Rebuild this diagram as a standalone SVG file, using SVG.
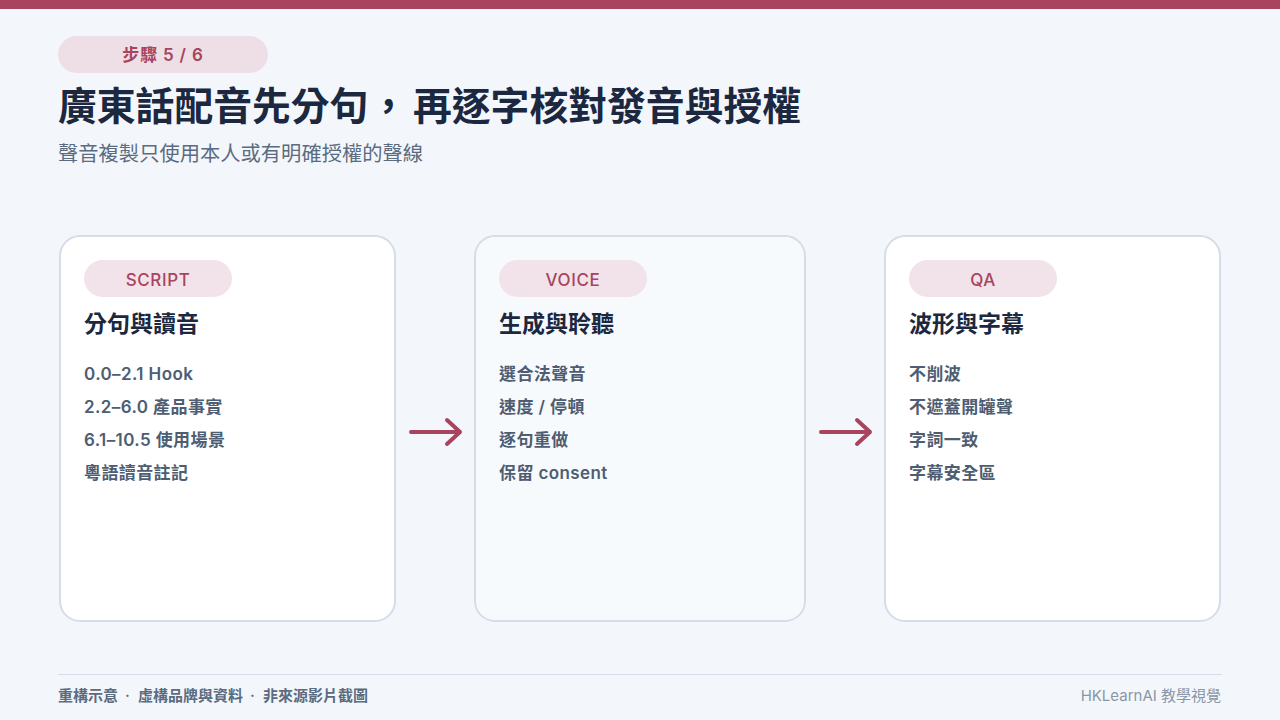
<svg xmlns="http://www.w3.org/2000/svg" width="1280" height="720" viewBox="0 0 1280 720">
  <defs>
    <style>
      .sans { font-family: "Inter", "Noto Sans CJK TC", "Noto Sans", sans-serif; }
      .card { stroke: #D5DEE8; stroke-width: 2; }
      .badge { fill: #F1E3E9; }
      .badge-text { font-size: 17px; font-weight: 500; fill: #A8445E; text-anchor: middle; letter-spacing: 0.6px; }
      .card-title { font-size: 23px; font-weight: 700; fill: #1B2840; }
      .item { font-size: 17px; font-weight: 600; fill: #4E5D72; letter-spacing: 0.4px; }
      .arrow { stroke: #A8445E; stroke-width: 4; fill: none; stroke-linecap: round; stroke-linejoin: round; }
    </style>
  </defs>
  <rect x="0" y="0" width="1280" height="720" fill="#F3F7FB"/>
  <rect x="0" y="0" width="1280" height="9" fill="#A8445E"/>

  <g id="header" class="sans">
    <rect x="58" y="36" width="210" height="37" rx="18.5" fill="#EEDFE6"/>
    <text x="163" y="61" font-size="17" font-weight="600" fill="#A8445E" text-anchor="middle" letter-spacing="0.8">步驟 5 / 6</text>
    <text y="120" font-size="38.8" font-weight="700" fill="#1B2840"><tspan x="58">廣東話配音先分句</tspan><tspan x="369">，</tspan><tspan x="413">再逐字核對發音與授權</tspan></text>
    <text x="58" y="161" font-size="20.3" font-weight="400" fill="#5B6B80">聲音複製只使用本人或有明確授權的聲線</text>
  </g>

  <g id="card-script" class="sans">
    <rect class="card" x="60" y="236" width="335" height="385" rx="20" fill="#FFFFFF"/>
    <rect class="badge" x="84" y="260" width="148" height="37" rx="18.5"/>
    <text class="badge-text" x="158" y="286">SCRIPT</text>
    <text class="card-title" x="84" y="332">分句與讀音</text>
    <text class="item" x="84" y="380">0.0–2.1 Hook</text>
    <text class="item" x="84" y="413">2.2–6.0 產品事實</text>
    <text class="item" x="84" y="446">6.1–10.5 使用場景</text>
    <text class="item" x="84" y="479">粵語讀音註記</text>
  </g>

  <g id="card-voice" class="sans">
    <rect class="card" x="475" y="236" width="330" height="385" rx="20" fill="#F7FAFD"/>
    <rect class="badge" x="499" y="260" width="148" height="37" rx="18.5"/>
    <text class="badge-text" x="573" y="286">VOICE</text>
    <text class="card-title" x="499" y="332">生成與聆聽</text>
    <text class="item" x="499" y="380">選合法聲音</text>
    <text class="item" x="499" y="413">速度 / 停頓</text>
    <text class="item" x="499" y="446">逐句重做</text>
    <text class="item" x="499" y="479">保留 consent</text>
  </g>

  <g id="card-qa" class="sans">
    <rect class="card" x="885" y="236" width="335" height="385" rx="20" fill="#FFFFFF"/>
    <rect class="badge" x="909" y="260" width="148" height="37" rx="18.5"/>
    <text class="badge-text" x="983" y="286">QA</text>
    <text class="card-title" x="909" y="332">波形與字幕</text>
    <text class="item" x="909" y="380">不削波</text>
    <text class="item" x="909" y="413">不遮蓋開罐聲</text>
    <text class="item" x="909" y="446">字詞一致</text>
    <text class="item" x="909" y="479">字幕安全區</text>
  </g>

  <g id="connectors">
    <path class="arrow" d="M411 432 H460 M447 420 L460 432 L447 444"/>
    <path class="arrow" d="M821 432 H870 M857 420 L870 432 L857 444"/>
  </g>

  <g id="footer" class="sans">
    <line x1="58" y1="674.5" x2="1222" y2="674.5" stroke="#D5DEE8" stroke-width="1"/>
    <text y="701" font-size="15" font-weight="600" fill="#5B6B80"><tspan x="58">重構示意</tspan><tspan x="125">·</tspan><tspan x="138">虛構品牌與資料</tspan><tspan x="250">·</tspan><tspan x="263">非來源影片截圖</tspan></text>
    <text x="1221" y="701" font-size="15" font-weight="400" fill="#8A96A8" text-anchor="end">HKLearnAI 教學視覺</text>
  </g>
</svg>
